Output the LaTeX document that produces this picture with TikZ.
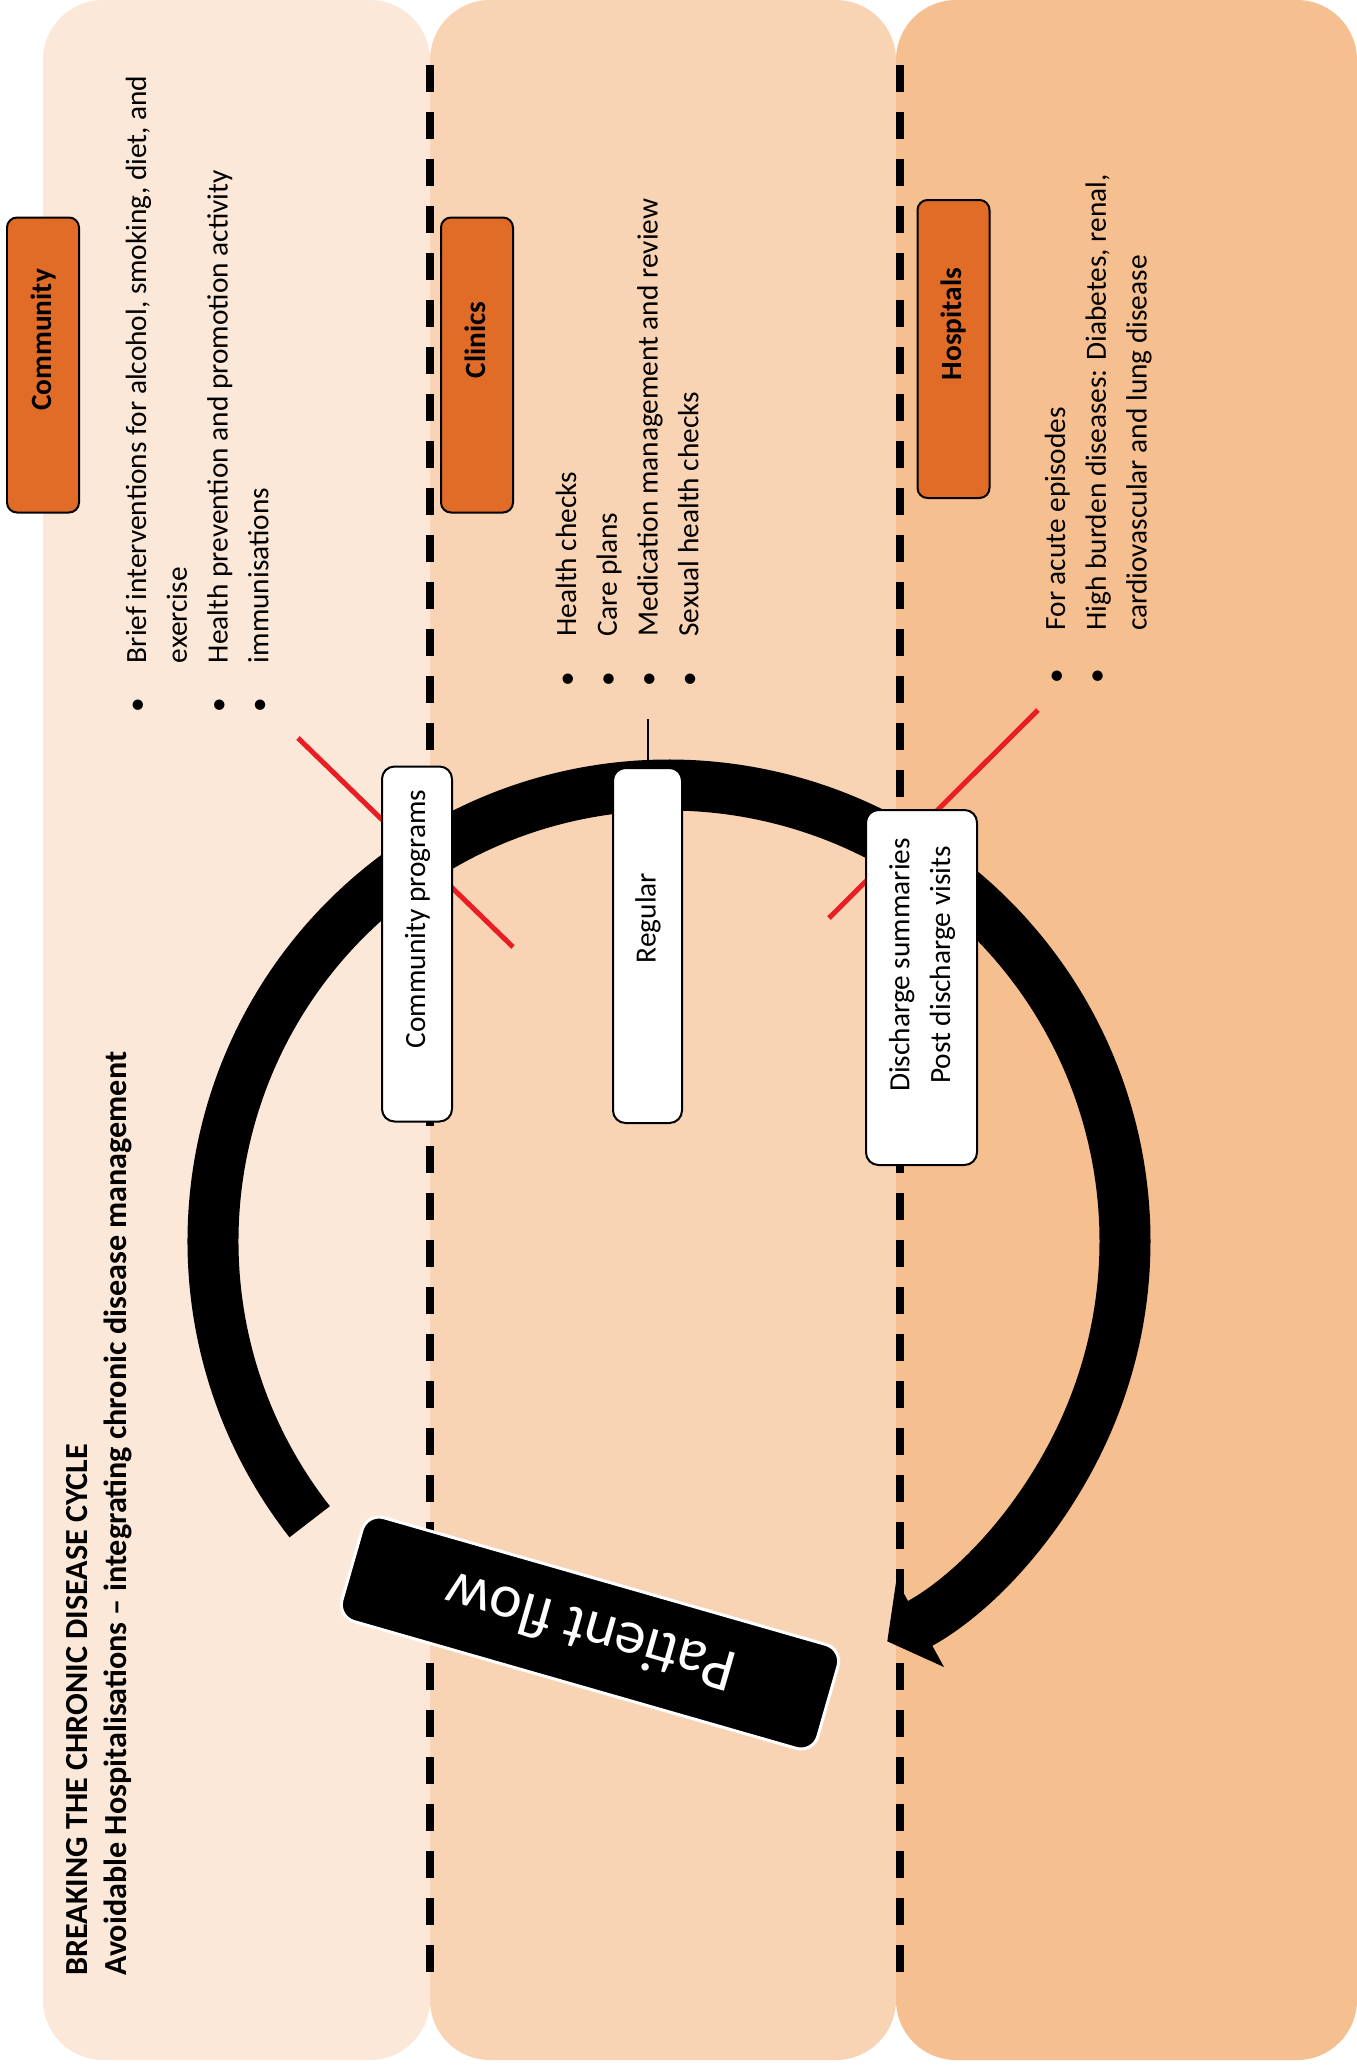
\documentclass[tikz,border=0pt]{standalone}
\usepackage{fontspec}
\setmainfont{Carlito}
\usetikzlibrary{positioning,arrows.meta}

\definecolor{community}{RGB}{251,232,217}
\definecolor{clinic}{RGB}{249,212,180}
\definecolor{hospital}{RGB}{246,191,143}
\definecolor{taborange}{RGB}{225,108,40}
\definecolor{crossred}{RGB}{232,30,36}

\newcommand{\bodyfont}{\fontsize{16.7}{23.2}\selectfont}
% text in the boxes sits a little above the middle
\newcommand{\lifted}[2][1cm]{\hspace*{#1}\begin{tabular}{@{}c@{}}#2\end{tabular}}

\tikzset{
  panel/.style={rounded corners=1.2cm},
  divider/.style={line width=0.16cm, dash pattern=on 0.54cm off 0.4cm},
  tab/.style={rotate=90, draw, fill=taborange, line width=0.04cm, rounded corners=0.2cm,
    minimum width=5.9cm, minimum height=1.44cm, font=\bodyfont\bfseries},
  bullets/.style={rotate=90, anchor=base west, inner sep=0pt, font=\bodyfont},
  callout/.style={rotate=90, draw, fill=white, line width=0.04cm, rounded corners=0.25cm,
    minimum width=7.1cm, minimum height=1.4cm, font=\bodyfont},
  cross/.style={crossred, line width=0.1cm},
  flowtag/.style={rotate=164, draw=white, fill=black, text=white, line width=0.06cm,
    rounded corners=0.35cm, minimum width=9.9cm, minimum height=2.16cm,
    font=\fontsize{35}{42}\selectfont},
}

\begin{document}
\begin{tikzpicture}
\useasboundingbox (0,0) rectangle (27.14,-41.38);

% the three settings
\fill[panel, community] (0.86,0) rectangle (8.6,-41.2);
\fill[panel, clinic] (8.6,0) rectangle (17.92,-41.2);
\fill[panel, hospital] (17.92,0) rectangle (27.14,-41.2);

\draw[divider] (8.6,-1.3) -- (8.6,-39.52);
\draw[divider] (18,-1.3) -- (18,-39.52);

% headings
\node[tab] (community) at (0.86,-7.3) {\lifted{Community}};
\node[tab] (clinics) at (9.54,-7.3) {\lifted{Clinics}};
\node[tab, minimum width=5.96cm] (hospitals) at (19.07,-6.98) {\lifted{Hospitals}};

\node[bullets, font=\fontsize{18.3}{22.7}\selectfont\bfseries] (title) at (1.74,-39.52) {%
\begin{tabular}[t]{@{}l@{}}
BREAKING THE CHRONIC DISEASE CYCLE\\
Avoidable Hospitalisations -- integrating chronic disease management
\end{tabular}};

\node[bullets] (communitylist) at (2.92,-14.26) {%
\begin{tabular}[t]{@{}l@{\hspace{0.7cm}}l@{}}
\textbullet & Brief interventions for alcohol, smoking, diet, and\\
 & exercise\\
\textbullet & Health prevention and promotion activity\\
\textbullet & immunisations
\end{tabular}};

\node[bullets] (cliniclist) at (11.52,-13.73) {%
\begin{tabular}[t]{@{}l@{\hspace{0.7cm}}l@{}}
\textbullet & Health checks\\
\textbullet & Care plans\\
\textbullet & Medication management and review\\
\textbullet & Sexual health checks
\end{tabular}};

\node[bullets] (hospitallist) at (21.3,-13.67) {%
\begin{tabular}[t]{@{}l@{\hspace{0.76cm}}l@{}}
\textbullet & For acute episodes\\
\textbullet & High burden diseases: Diabetes, renal,\\
 & cardiovascular and lung disease
\end{tabular}};

% patient flow cycle
\coordinate (hub) at (13.38,-24.82);
\draw[line width=1.02cm, -{Triangle[length=0.75cm, width=1.95cm]}]
  ([shift={(218:9.12)}]hub) arc[start angle=218, end angle=-61.4, radius=9.12];

\draw[cross] (5.96,-14.76) -- (10.26,-18.94);
\draw[cross] (20.76,-14.2) -- (16.58,-18.36);

\node[callout] (commprog) at (8.34,-18.88) {\lifted{Community programs}};
\node[callout, minimum height=1.38cm] (regular) at (12.95,-18.91) {\lifted[1.1cm]{Regular}};
\node[callout, minimum height=2.22cm] (discharge) at (18.43,-19.75)
  {\lifted[0.9cm]{Discharge summaries\\Post discharge visits}};

\coordinate[above=0.96cm of regular.east] (regtick);
\draw[line width=0.04cm] (regular.east) -- (regtick);

\node[flowtag] (flow) at (11.8,-32.66) {Patient flow};

\end{tikzpicture}
\end{document}
